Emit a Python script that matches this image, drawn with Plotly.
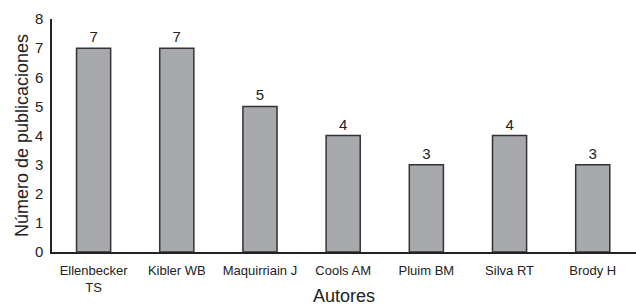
import plotly.graph_objects as go

autores = ["Ellenbecker<br>TS", "Kibler WB", "Maquirriain J", "Cools AM", "Pluim BM", "Silva RT", "Brody H"]
publicaciones = [7, 7, 5, 4, 3, 4, 3]
y_ticks = [0, 1, 2, 3, 4, 5, 6, 7, 8]

fig = go.Figure(go.Bar(
    x=autores,
    y=publicaciones,
    marker=dict(color="#a7a9ac", line=dict(color="#333333", width=1.5)),
    text=[str(v) for v in publicaciones],
    textposition="outside",
    textfont=dict(size=15, color="#222222"),
    cliponaxis=False,
    width=0.41,
))

fig.update_layout(
    width=636, height=306,
    margin=dict(l=52, r=0, t=19, b=54),
    paper_bgcolor="white", plot_bgcolor="white",
    font=dict(family="Liberation Sans, Arial, sans-serif", color="#222222"),
    showlegend=False,
    xaxis=dict(
        showline=True, linecolor="#222222", linewidth=1.5,
        ticks="", tickfont=dict(size=13), ticklabelstandoff=6,
        automargin=False,
        title=dict(text="Autores", font=dict(size=18), standoff=0),
        range=[-0.5, 6.52],
    ),
    yaxis=dict(
        range=[0, 8], tickvals=y_ticks, showgrid=False, zeroline=False,
        showline=True, linecolor="#222222", linewidth=1.5,
        ticks="", tickfont=dict(size=15), ticklabelstandoff=4,
        automargin=False,
        title=dict(text="Número de publicaciones", font=dict(size=18), standoff=2),
    ),
)

fig.write_html(
    "out.html",
    config={"displayModeBar": False},
    post_script="document.body.style.margin='0';document.body.style.overflow='hidden';",
)
